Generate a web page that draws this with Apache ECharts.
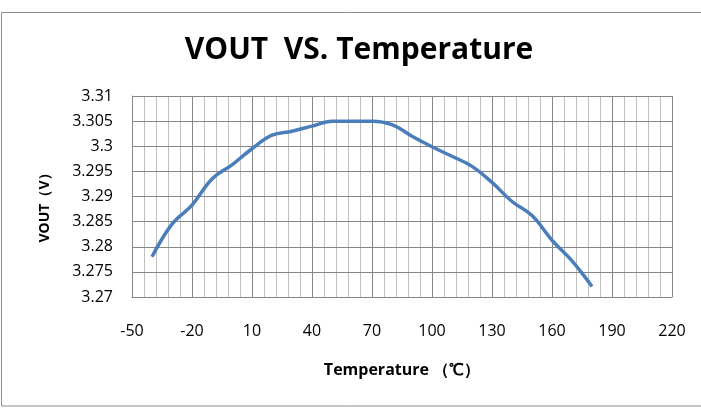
<!DOCTYPE html>
<html>
<head>
<meta charset="utf-8">
<script src="https://cdn.jsdelivr.net/npm/echarts@6/dist/echarts.min.js"></script>
<style>html,body{margin:0;padding:0;background:#fff;}#c{width:701px;height:408px;}</style>
</head>
<body>
<div id="c"></div>
<script>
var temperatures = [-40, -30, -20, -10, 0, 10, 20, 30, 40, 50, 60, 70, 80, 90, 100, 110, 120, 130, 140, 150, 160, 170, 180];
var vout = [3.278, 3.2845, 3.2883, 3.2935, 3.2963, 3.2995, 3.3022, 3.303, 3.304, 3.305, 3.305, 3.305, 3.3043, 3.302, 3.2999, 3.298, 3.296, 3.2928, 3.289, 3.2862, 3.2813, 3.2772, 3.2721];
var xTicks = [-50, -20, 10, 40, 70, 100, 130, 160, 190, 220];
var yTicks = [3.27, 3.275, 3.28, 3.285, 3.29, 3.295, 3.3, 3.305, 3.31];
var xMinorStep = 6;

var xMin = xTicks[0], xMax = xTicks[xTicks.length - 1], xStep = xTicks[1] - xTicks[0];
var span = xMax - xMin;

var chart = echarts.init(document.getElementById('c'));
var font = 'Open Sans';
function gridAxis(interval, color, z) {
  return {
    type: 'value', min: 0, max: span, interval: interval,
    position: 'bottom', z: z,
    axisLine: { show: false }, axisTick: { show: false }, axisLabel: { show: false },
    splitLine: { show: true, lineStyle: { color: color, width: 1 } }
  };
}
chart.setOption({
  animation: false,
  backgroundColor: '#fff',
  title: {
    text: 'VOUT  VS. Temperature',
    left: 354, top: 30, textAlign: 'center',
    textStyle: { fontFamily: font, fontWeight: 'bold', fontSize: 30, color: '#000' }
  },
  graphic: [{
    type: 'rect', silent: true, z: -1,
    shape: { x: 1.5, y: 12.5, width: 720, height: 393.5 },
    style: { fill: 'none', stroke: '#8c8c8c', lineWidth: 1 }
  }],
  grid: { left: 132, right: 29, top: 96, bottom: 111, containLabel: false },
  xAxis: [{
    type: 'value',
    min: xMin, max: xMax, interval: xStep,
    name: 'Temperature （℃）', nameLocation: 'middle', nameGap: 65,
    nameTextStyle: { fontFamily: font, fontWeight: 'bold', fontSize: 16, color: '#000' },
    axisLine: { show: true, onZero: false, lineStyle: { color: '#868686', width: 1 } },
    axisTick: { show: false },
    axisLabel: { fontFamily: font, fontSize: 16, color: '#000', margin: 26 },
    splitLine: { show: false },
    z: 3
  },
  gridAxis(xMinorStep, '#c0c0c0', 1),
  gridAxis(xStep, '#868686', 2)
  ],
  yAxis: {
    type: 'value',
    min: yTicks[0], max: yTicks[yTicks.length - 1], interval: 0.005,
    name: 'VOUT（V）', nameLocation: 'middle', nameGap: 80, nameRotate: 90,
    nameTextStyle: { fontFamily: font, fontWeight: 'bold', fontSize: 14, color: '#000', padding: [0, 16, 0, 0] },
    axisLine: { show: true, onZero: false, lineStyle: { color: '#868686', width: 1 } },
    axisTick: { show: false },
    axisLabel: { fontFamily: font, fontSize: 16, color: '#000', margin: 19 },
    splitLine: { show: true, lineStyle: { color: '#868686', width: 1 } },
    z: 3
  },
  series: [{
    type: 'line',
    xAxisIndex: 0,
    data: temperatures.map(function (t, i) { return [t, vout[i]]; }),
    smooth: 0.4,
    showSymbol: false,
    lineStyle: { color: '#4a7ebb', width: 3.5 },
    z: 5
  }]
});
</script>
</body>
</html>
